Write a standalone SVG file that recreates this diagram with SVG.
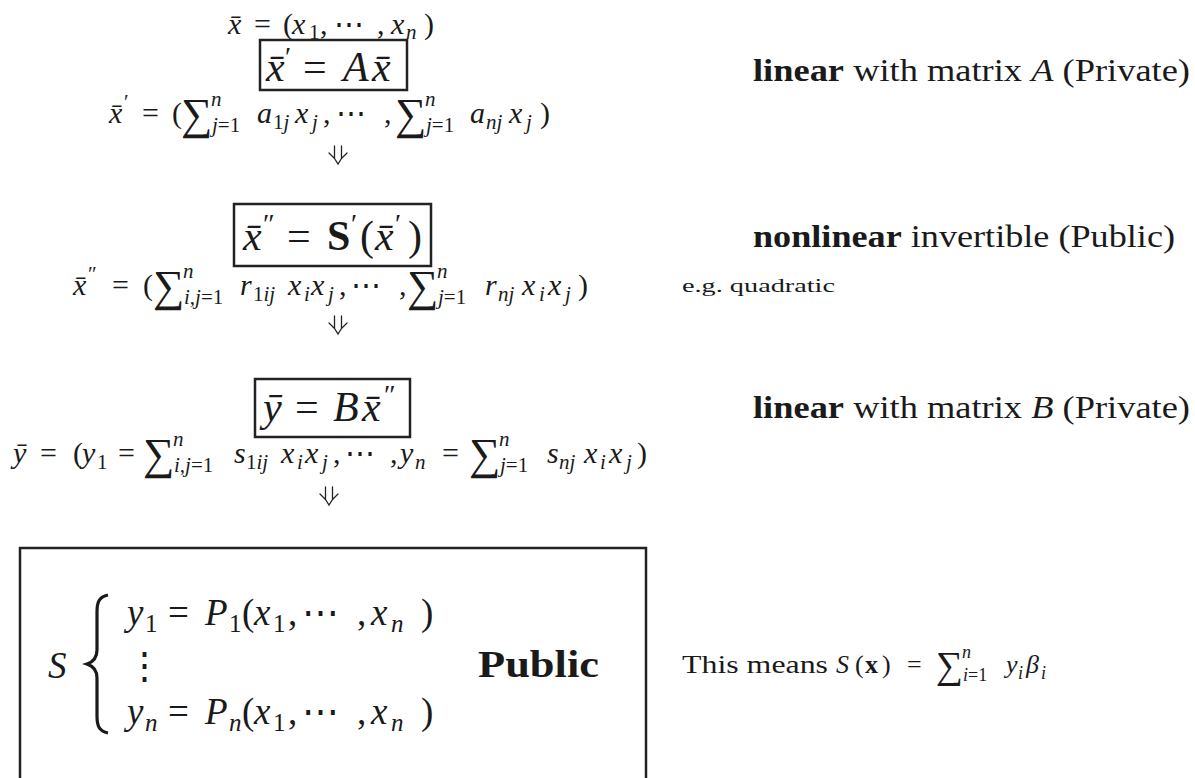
<svg xmlns="http://www.w3.org/2000/svg" width="1195" height="778" viewBox="0 0 1195 778">
<style>
text{font-family:"Liberation Serif","DejaVu Serif",serif;fill:#1a1a1a}
.i{font-style:italic}
.b{font-weight:bold}
.m{font-size:30px}
.sb{font-size:21px}
.sm{font-size:44px}
.bx{font-size:42px}
.bp{font-size:28px}
.sy{font-size:37px}
.sys{font-size:25px}
.lab{font-size:31px}
.box{fill:none;stroke:#222;stroke-width:2.5}
.arr{fill:none;stroke:#222;stroke-width:1.3;stroke-linecap:round}
</style>
<rect width="1195" height="778" fill="#fff"/>

<g id="input">
<text class="m" y="34"><tspan class="i" x="228">x&#x304;</tspan><tspan x="254">=</tspan><tspan x="283">(</tspan><tspan class="i" x="292">x</tspan><tspan class="sb" x="309" y="39">1</tspan><tspan x="320" y="34">,</tspan><tspan x="334">&#x22EF;</tspan><tspan x="377">,</tspan><tspan class="i" x="391">x</tspan><tspan class="sb i" x="406" y="39">n</tspan><tspan x="424" y="34">)</tspan></text>
</g>

<g id="step1">
<rect class="box" x="260" y="40" width="147" height="50"/>
<text class="bx" y="81"><tspan class="i" x="266">x&#x304;</tspan><tspan class="bp" x="285" y="66">&#x2032;</tspan><tspan x="303" y="81">=</tspan><tspan class="i" x="343">A</tspan><tspan class="i" x="372">x&#x304;</tspan></text>
<text class="m" y="123"><tspan class="i" x="109">x&#x304;</tspan><tspan class="sb" x="124" y="109">&#x2032;</tspan><tspan x="142" y="123">=</tspan><tspan x="172">(</tspan><tspan class="sm" x="181" y="129">&#x2211;</tspan><tspan class="sb i" x="211" y="106">n</tspan><tspan class="sb" x="212" y="132"><tspan class="i">j</tspan>=1</tspan><tspan class="i" x="257" y="123">a</tspan><tspan class="sb" x="273" y="129">1<tspan class="i">j</tspan></tspan><tspan class="i" x="295" y="123">x</tspan><tspan class="sb i" x="312" y="129">j</tspan><tspan x="323" y="123">,</tspan><tspan x="336">&#x22EF;</tspan><tspan x="384">,</tspan><tspan class="sm" x="395" y="129">&#x2211;</tspan><tspan class="sb i" x="425" y="106">n</tspan><tspan class="sb" x="426" y="132"><tspan class="i">j</tspan>=1</tspan><tspan class="i" x="470" y="123">a</tspan><tspan class="sb i" x="486" y="129">nj</tspan><tspan class="i" x="509" y="123">x</tspan><tspan class="sb i" x="526" y="129">j</tspan><tspan x="540" y="123">)</tspan></text>
<text class="lab" x="753" y="81" textLength="437" lengthAdjust="spacingAndGlyphs"><tspan class="b">linear</tspan> with matrix <tspan class="i">A</tspan> (Private)</text>
</g>

<g id="step2">
<rect class="box" x="234" y="204" width="197" height="62"/>
<text class="bx" y="250"><tspan class="i" x="243">x&#x304;</tspan><tspan class="bp" x="263" y="233">&#x2033;</tspan><tspan x="287" y="250">=</tspan><tspan class="b" x="327">S</tspan><tspan class="bp" x="351" y="233">&#x2032;</tspan><tspan x="360" y="250">(</tspan><tspan class="i" x="375">x&#x304;</tspan><tspan class="bp" x="395" y="233">&#x2032;</tspan><tspan x="408" y="250">)</tspan></text>
<text class="m" y="295"><tspan class="i" x="73">x&#x304;</tspan><tspan class="sb" x="88" y="281">&#x2033;</tspan><tspan x="112" y="295">=</tspan><tspan x="143">(</tspan><tspan class="sm" x="153" y="301">&#x2211;</tspan><tspan class="sb i" x="183" y="278">n</tspan><tspan class="sb" x="184" y="304"><tspan class="i">i</tspan>,<tspan class="i">j</tspan>=1</tspan><tspan class="i" x="240" y="295">r</tspan><tspan class="sb" x="253" y="301">1<tspan class="i">ij</tspan></tspan><tspan class="i" x="288" y="295">x</tspan><tspan class="sb i" x="304" y="301">i</tspan><tspan class="i" x="311" y="295">x</tspan><tspan class="sb i" x="328" y="301">j</tspan><tspan x="339" y="295">,</tspan><tspan x="351">&#x22EF;</tspan><tspan x="399">,</tspan><tspan class="sm" x="407" y="301">&#x2211;</tspan><tspan class="sb i" x="437" y="278">n</tspan><tspan class="sb" x="438" y="304"><tspan class="i">j</tspan>=1</tspan><tspan class="i" x="485" y="295">r</tspan><tspan class="sb i" x="498" y="301">nj</tspan><tspan class="i" x="522" y="295">x</tspan><tspan class="sb i" x="539" y="301">i</tspan><tspan class="i" x="548" y="295">x</tspan><tspan class="sb i" x="565" y="301">j</tspan><tspan x="578" y="295">)</tspan></text>
<text class="lab" x="753" y="247" textLength="422" lengthAdjust="spacingAndGlyphs"><tspan class="b">nonlinear</tspan> invertible (Public)</text>
<text x="682" y="292" font-size="18" textLength="153" lengthAdjust="spacingAndGlyphs">e.g. quadratic</text>
</g>

<g id="step3">
<rect class="box" x="255" y="379" width="155" height="58"/>
<text class="bx" y="421"><tspan class="i" x="263">y&#x304;</tspan><tspan x="295">=</tspan><tspan class="i" x="333">B</tspan><tspan class="i" x="362">x&#x304;</tspan><tspan class="bp" x="384" y="404">&#x2033;</tspan></text>
<text class="m" y="463"><tspan class="i" x="13">y&#x304;</tspan><tspan x="40">=</tspan><tspan x="73">(</tspan><tspan class="i" x="82">y</tspan><tspan class="sb" x="97" y="469">1</tspan><tspan x="118" y="463">=</tspan><tspan class="sm" x="143" y="469">&#x2211;</tspan><tspan class="sb i" x="173" y="446">n</tspan><tspan class="sb" x="174" y="472"><tspan class="i">i</tspan>,<tspan class="i">j</tspan>=1</tspan><tspan class="i" x="234" y="463">s</tspan><tspan class="sb" x="246" y="469">1<tspan class="i">ij</tspan></tspan><tspan class="i" x="281" y="463">x</tspan><tspan class="sb i" x="297" y="469">i</tspan><tspan class="i" x="305" y="463">x</tspan><tspan class="sb i" x="322" y="469">j</tspan><tspan x="333" y="463">,</tspan><tspan x="345">&#x22EF;</tspan><tspan x="390">,</tspan><tspan class="i" x="400">y</tspan><tspan class="sb i" x="415" y="469">n</tspan><tspan x="442" y="463">=</tspan><tspan class="sm" x="469" y="469">&#x2211;</tspan><tspan class="sb i" x="499" y="446">n</tspan><tspan class="sb" x="500" y="472"><tspan class="i">j</tspan>=1</tspan><tspan class="i" x="547" y="463">s</tspan><tspan class="sb i" x="559" y="469">nj</tspan><tspan class="i" x="584" y="463">x</tspan><tspan class="sb i" x="600" y="469">i</tspan><tspan class="i" x="609" y="463">x</tspan><tspan class="sb i" x="626" y="469">j</tspan><tspan x="637" y="463">)</tspan></text>
<text class="lab" x="753" y="418" textLength="437" lengthAdjust="spacingAndGlyphs"><tspan class="b">linear</tspan> with matrix <tspan class="i">B</tspan> (Private)</text>
</g>

<g id="public">
<path class="box" d="M20,778 V548 H646 V778" stroke-width="3"/>
<text class="sy i" x="48" y="678">S</text>
<path d="M108,595 C99,597 97,602 97,612 L97,650 C97,658 93,662 87,664 C93,666 97,670 97,678 L97,716 C97,726 99,731 108,733" fill="none" stroke="#1a1a1a" stroke-width="3.2"/>
<text class="sy" y="625"><tspan class="i" x="127">y</tspan><tspan class="sys" x="145" y="632">1</tspan><tspan x="168" y="625">=</tspan><tspan class="i" x="205">P</tspan><tspan class="sys" x="229" y="632">1</tspan><tspan x="242" y="625">(</tspan><tspan class="i" x="254">x</tspan><tspan class="sys" x="273" y="632">1</tspan><tspan x="288" y="625">,</tspan><tspan x="302">&#x22EF;</tspan><tspan x="357">,</tspan><tspan class="i" x="371">x</tspan><tspan class="sys i" x="391" y="632">n</tspan><tspan x="421" y="625">)</tspan></text>
<text class="sy" x="126" y="678">&#x22EE;</text>
<text class="sy" y="724"><tspan class="i" x="127">y</tspan><tspan class="sys i" x="145" y="731">n</tspan><tspan x="168" y="724">=</tspan><tspan class="i" x="205">P</tspan><tspan class="sys i" x="229" y="731">n</tspan><tspan x="242" y="724">(</tspan><tspan class="i" x="254">x</tspan><tspan class="sys" x="273" y="731">1</tspan><tspan x="288" y="724">,</tspan><tspan x="302">&#x22EF;</tspan><tspan x="357">,</tspan><tspan class="i" x="371">x</tspan><tspan class="sys i" x="391" y="731">n</tspan><tspan x="421" y="724">)</tspan></text>
<text class="b" x="478" y="677" font-size="37" textLength="121" lengthAdjust="spacingAndGlyphs">Public</text>
</g>

<g id="meaning">
<text font-size="26" y="673"><tspan x="682" textLength="146" lengthAdjust="spacingAndGlyphs">This means</tspan><tspan class="i" x="836">S</tspan><tspan x="855">(</tspan><tspan class="b" x="865">x</tspan><tspan x="882">)</tspan><tspan x="907">=</tspan><tspan font-size="38" x="936" y="678">&#x2211;</tspan><tspan class="i" font-size="18" x="962" y="658">n</tspan><tspan font-size="18" x="963" y="681"><tspan class="i">i</tspan>=1</tspan><tspan class="i" x="1006" y="673">y</tspan><tspan class="i" font-size="18" x="1018" y="679">i</tspan><tspan class="i" x="1026" y="673">&#x3B2;</tspan><tspan class="i" font-size="18" x="1041" y="679">i</tspan></text>
</g>

<g id="connectors">
<path class="arr" d="M334.5,146 V158 M341.5,146 V158 M329,153 Q335,158 338,164 Q341,158 347,153"/>
<path class="arr" d="M334.5,316 V328 M341.5,316 V328 M329,323 Q335,328 338,334 Q341,328 347,323"/>
<path class="arr" d="M325.5,487 V499 M332.5,487 V499 M320,494 Q326,499 329,505 Q332,499 338,494"/>
</g>
</svg>
